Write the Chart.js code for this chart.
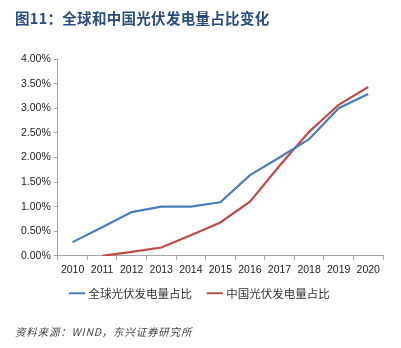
<!DOCTYPE html>
<html>
<head>
<meta charset="utf-8">
<script src="https://cdn.jsdelivr.net/npm/chart.js@4/dist/chart.umd.min.js"></script>
<style>
  body { margin: 0; background: #fff; }
  #wrap { position: relative; width: 401px; height: 348px; }
  #title {
    position: absolute; left: 15px; top: 7px; letter-spacing: 0.3px;
    font: bold 14.5px "Noto Sans CJK SC", sans-serif; color: #2b4c7e;
  }
  #source {
    position: absolute; left: 15px; top: 324px; letter-spacing: 0.8px;
    font: italic 10.5px "Noto Sans CJK SC", sans-serif; color: #444;
  }
  canvas { position: absolute; left: 0; top: 0; }
</style>
</head>
<body>
<div id="wrap">
  <canvas id="shareChart" width="401" height="348"></canvas>
  <div id="title">图11：全球和中国光伏发电量占比变化</div>
  <div id="source">资料来源：WIND，东兴证券研究所</div>
</div>
<script>
// Years and share of PV in total generation (%)
const years = ["2010", "2011", "2012", "2013", "2014", "2015", "2016", "2017", "2018", "2019", "2020"];
const globalShare = [0.28, 0.58, 0.89, 1.00, 1.00, 1.09, 1.64, 2.00, 2.37, 3.00, 3.29];
const chinaShare = [null, 0.00, 0.08, 0.17, 0.42, 0.68, 1.10, 1.83, 2.52, 3.07, 3.43];

// pull the legend row a little closer to the axis labels
const legendNudge = {
  id: "legendNudge",
  afterLayout(chart) {
    chart.legend.top -= 10;
    chart.legend.bottom -= 10;
  },
};

document.addEventListener("DOMContentLoaded", () => {
  const ctx = document.getElementById("shareChart").getContext("2d");
  new Chart(ctx, {
    type: "line",
    data: {
      labels: years,
      datasets: [
        {
          label: "全球光伏发电量占比",
          data: globalShare,
          borderColor: "#4a7ebb",
          borderWidth: 2.2,
          pointRadius: 0,
          tension: 0,
        },
        {
          label: "中国光伏发电量占比",
          data: chinaShare,
          borderColor: "#be4b48",
          borderWidth: 2.2,
          pointRadius: 0,
          tension: 0,
        },
      ],
    },
    options: {
      responsive: false,
      animation: false,
      layout: { padding: { left: 18, right: 18, top: 59, bottom: 29 } },
      plugins: {
        tooltip: { enabled: false },
        legend: {
          position: "bottom",
          labels: {
            usePointStyle: true,
            pointStyle: "line",
            boxWidth: 24,
            color: "#333",
            padding: 17,
            font: { family: "'Noto Sans CJK SC', sans-serif", size: 11.5 },
          },
        },
      },
      scales: {
        x: {
          offset: true,
          grid: { offset: true, drawOnChartArea: false, tickLength: 4, color: "#a6a6a6" },
          border: { color: "#a6a6a6" },
          ticks: { color: "#222", padding: 4, maxRotation: 0, font: { family: "'Liberation Sans', sans-serif", size: 10.5 } },
        },
        y: {
          min: 0,
          max: 4,
          grid: { drawOnChartArea: false, tickLength: 4, color: "#a6a6a6" },
          border: { color: "#a6a6a6" },
          ticks: {
            stepSize: 0.5,
            color: "#222",
            font: { family: "'Liberation Sans', sans-serif", size: 10.5 },
            callback: (v) => v.toFixed(2) + "%",
          },
        },
      },
    },
    plugins: [legendNudge],
  });
});
</script>
</body>
</html>
